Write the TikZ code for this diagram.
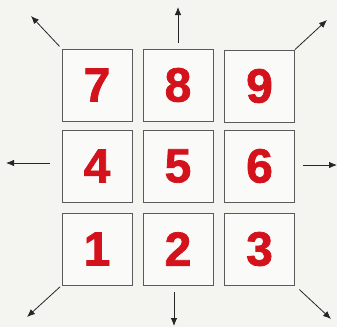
\documentclass[tikz,border=0pt]{standalone}
\usepackage{fontspec}
\setmainfont{Liberation Sans}
\newfontfamily\keyfont[BoldFeatures={FakeBold=1.6}]{Liberation Sans}
\usetikzlibrary{arrows.meta,positioning}
\definecolor{keyRed}{RGB}{212,18,28}
\definecolor{keyGray}{RGB}{90,90,90}
\definecolor{paperGray}{RGB}{244,244,241}

\begin{document}
\begin{tikzpicture}[x=1pt,y=-1pt,
  key/.style={draw=keyGray, line width=0.8pt, fill=white!55!paperGray,
    minimum width=70pt, minimum height=72pt, inner sep=0pt,
    text=keyRed, font=\keyfont\fontsize{48}{48}\selectfont\bfseries},
  dir/.style={line width=0.8pt, black!85, -{Latex[length=8pt,width=6.5pt]}}]
\fill[paperGray] (0,0) rectangle (337,327);
\useasboundingbox (0,0) rectangle (337,327);

% keypad
\foreach \d/\x/\y in {7/97/85,8/178/85,9/259.5/86,
                      4/97/166,5/178/166,6/259.5/166,
                      1/97/249,2/178/249,3/259.5/249}
{
    \node[key] (k\d) at (\x,\y) {\d};
}

% arrow ends
\coordinate (tipNW) at (31,16);
\coordinate (tipN) at (178,7);
\coordinate (tipNE) at (327,20);
\coordinate (tailW) at ([yshift=3pt]k4.west);
\coordinate (tipW) at (6,163);
\coordinate (tailE) at ([yshift=1pt]k6.east);
\coordinate (tipE) at (337,165);
\coordinate (tipSW) at (27,317);
\coordinate (tailS) at ([xshift=-4pt]k2.south);
\coordinate (tipS) at (174,326);
\coordinate (tipSE) at (331,319);

\draw[dir, shorten <=3pt] (k7.north west) -- (tipNW);
\draw[dir, shorten <=6pt] (k8.north) -- (tipN);
\draw[dir] (k9.north east) -- (tipNE);
\draw[dir, shorten <=12pt] (tailW) -- (tipW);
\draw[dir, shorten <=8pt] (tailE) -- (tipE);
\draw[dir, shorten <=2pt] (k1.south west) -- (tipSW);
\draw[dir, shorten <=7pt] (tailS) -- (tipS);
\draw[dir, shorten <=6pt] (k3.south east) -- (tipSE);
\end{tikzpicture}
\end{document}
